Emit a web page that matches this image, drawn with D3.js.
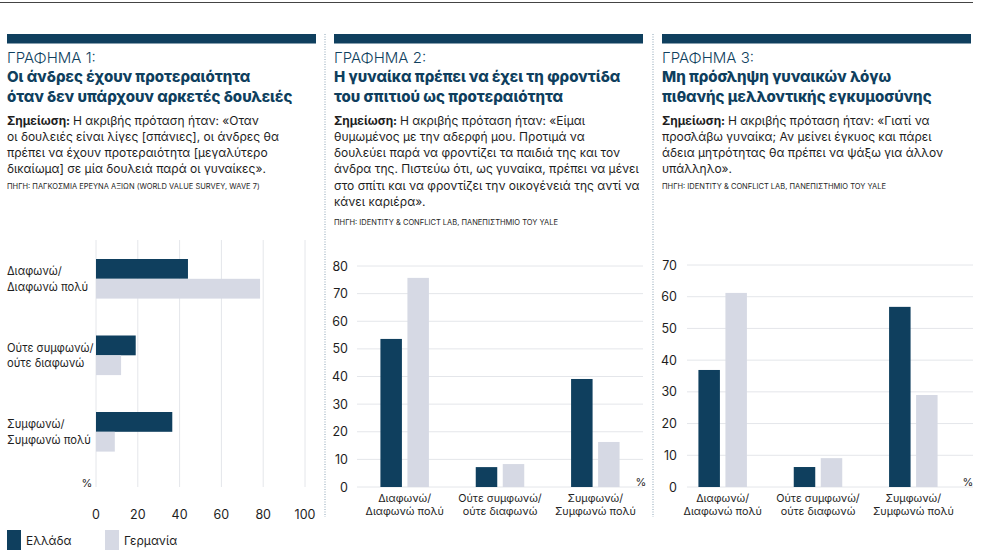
<!DOCTYPE html>
<html><head><meta charset="utf-8">
<script src="https://cdn.jsdelivr.net/npm/d3@7"></script>
<style>
body{margin:0;background:#fff;}
svg{display:block;font-family:Inter,"Noto Sans",sans-serif;}
</style></head>
<body>
<svg id="c" width="988" height="558"></svg>
<script>
const categories = ["Διαφωνώ/\nΔιαφωνώ πολύ", "Ούτε συμφωνώ/\nούτε διαφωνώ", "Συμφωνώ/\nΣυμφωνώ πολύ"];
const seriesNames = ["Ελλάδα", "Γερμανία"];
const chart1Greece = [44, 19, 36.5];
const chart1Germany = [78.5, 12, 9];
const chart2Greece = [53.6, 7.2, 39.1];
const chart2Germany = [75.7, 8.3, 16.3];
const chart3Greece = [36.9, 6.3, 56.8];
const chart3Germany = [61.2, 9.1, 29];
const ticks1 = [0, 20, 40, 60, 80, 100];
const ticks2 = [0, 10, 20, 30, 40, 50, 60, 70, 80];
const ticks3 = [0, 10, 20, 30, 40, 50, 60, 70];

const headers = [
  {label:"ΓΡΑΦΗΜΑ 1:", title:["Οι άνδρες έχουν προτεραιότητα","όταν δεν υπάρχουν αρκετές δουλειές"],
   note:["Η ακριβής πρόταση ήταν:  «Οταν","οι δουλειές είναι λίγες [σπάνιες], οι άνδρες θα","πρέπει να έχουν προτεραιότητα [μεγαλύτερο","δικαίωμα]  σε μία δουλειά παρά οι γυναίκες»."],
   source:"ΠΗΓΗ: ΠΑΓΚΟΣΜΙΑ ΕΡΕΥΝΑ ΑΞΙΩΝ (WORLD VALUE SURVEY, WAVE 7)"},
  {label:"ΓΡΑΦΗΜΑ 2:", title:["Η γυναίκα πρέπει να έχει τη φροντίδα","του σπιτιού ως προτεραιότητα"],
   note:["Η ακριβής πρόταση ήταν: «Είμαι","θυμωμένος με την αδερφή μου. Προτιμά να","δουλεύει παρά να φροντίζει τα παιδιά της και τον","άνδρα της. Πιστεύω ότι, ως γυναίκα, πρέπει να μένει","στο σπίτι και να φροντίζει την οικογένειά της αντί να","κάνει καριέρα»."],
   source:"ΠΗΓΗ: IDENTITY & CONFLICT LAB, ΠΑΝΕΠΙΣΤΗΜΙΟ ΤΟΥ YALE"},
  {label:"ΓΡΑΦΗΜΑ 3:", title:["Μη πρόσληψη γυναικών λόγω","πιθανής μελλοντικής εγκυμοσύνης"],
   note:["Η ακριβής πρόταση ήταν: «Γιατί να","προσλάβω γυναίκα; Αν μείνει έγκυος και πάρει","άδεια μητρότητας θα πρέπει να ψάξω για άλλον","υπάλληλο»."],
   source:"ΠΗΓΗ: IDENTITY & CONFLICT LAB, ΠΑΝΕΠΙΣΤΗΜΙΟ ΤΟΥ YALE"}
];

const NAVY = "#0f3f5e", LIGHT = "#d6d9e4", GRID = "#e4e6ea", TXT = "#1e1e1e";
const svg = d3.select("#c");

// top rule
svg.append("line").attr("x1",0).attr("x2",973).attr("y1",2.5).attr("y2",2.5).attr("stroke","#444").attr("stroke-width",1.2);

// separators
[325, 653].forEach(x => svg.append("line").attr("x1",x).attr("x2",x).attr("y1",34).attr("y2",517)
  .attr("stroke","#8aa3b5").attr("stroke-width",1).attr("stroke-dasharray","1,1.5"));

const panelX = [7, 334, 662];
const panelW = [309, 309, 309];
headers.forEach((h,i) => {
  const x0 = panelX[i];
  svg.append("rect").attr("x",x0).attr("y",34).attr("width",panelW[i]).attr("height",9.5).attr("fill",NAVY);
  svg.append("text").attr("x",x0).attr("y",63).attr("font-size",15).attr("fill",NAVY).attr("font-weight",300).text(h.label);
  h.title.forEach((t,j) => svg.append("text").attr("x",x0).attr("y",82+j*19.5).attr("font-size",15).attr("font-weight",800).attr("fill",NAVY).text(t));
  h.note.forEach((t,j) => {
    const tx = svg.append("text").attr("x",x0).attr("y",124.5+j*16.3).attr("font-size",12).attr("fill",TXT);
    if (j===0) { tx.append("tspan").attr("font-weight",700).text("Σημείωση: "); }
    tx.append("tspan").text(t);
  });
  svg.append("text").attr("x",x0).attr("y",128+h.note.length*16.3-4+ (i===1?3:0)).attr("font-size",7.5).attr("fill",TXT).text(h.source);
});

function multiline(sel, text, x, y, lh) {
  text.split("\n").forEach((l,k) => sel.append("tspan").attr("x",x).attr("y",y+k*lh).text(l));
}

// ---- Chart 1: horizontal bars
{
  const x = d3.scaleLinear().domain([0,100]).range([96,305]);
  const g = svg.append("g");
  g.selectAll(".gl").data(ticks1).join("line").attr("x1",d=>x(d)).attr("x2",d=>x(d)).attr("y1",240).attr("y2",487)
    .attr("stroke",GRID).attr("stroke-width",1);
  g.selectAll(".tl").data(ticks1).join("text").attr("x",d=>x(d)).attr("y",519).attr("text-anchor","middle")
    .attr("font-size",12.5).attr("fill",TXT).text(d=>d);
  g.append("text").attr("x",87).attr("y",487).attr("font-size",11).attr("fill",TXT).attr("text-anchor","middle").text("%");
  const bh = 19.8;
  const y0 = d3.scaleLinear().domain([0,2]).range([259, 412]);
  categories.forEach((c,i) => {
    const top = y0(i);
    g.append("rect").attr("x",x(0)).attr("y",top).attr("width",x(chart1Greece[i])-x(0)).attr("height",bh).attr("fill",NAVY);
    g.append("rect").attr("x",x(0)).attr("y",top+bh).attr("width",x(chart1Germany[i])-x(0)).attr("height",bh).attr("fill",LIGHT);
    const t = g.append("text").attr("font-size",11.2).attr("fill",TXT);
    multiline(t, c, 7, top+16, 15.5);
  });
  // legend
  svg.append("rect").attr("x",7).attr("y",530).attr("width",14).attr("height",20).attr("fill",NAVY);
  svg.append("text").attr("x",26).attr("y",545).attr("font-size",12).attr("fill",TXT).text(seriesNames[0]);
  svg.append("rect").attr("x",105).attr("y",530).attr("width",14).attr("height",20).attr("fill",LIGHT);
  svg.append("text").attr("x",124).attr("y",545).attr("font-size",12).attr("fill",TXT).text(seriesNames[1]);
}

// ---- Vertical charts
function vchart(opts) {
  const {gx0, gx1, bx0, bx1, y0, y1, max, ticks, gr, de, labelX, pctX} = opts;
  const y = d3.scaleLinear().domain([0,max]).range([y0,y1]);
  const x = d3.scaleBand().domain(categories).range([bx0,bx1]);
  const g = svg.append("g");
  g.selectAll(".gl").data(ticks).join("line").attr("x1",gx0).attr("x2",gx1).attr("y1",d=>y(d)).attr("y2",d=>y(d))
    .attr("stroke",GRID).attr("stroke-width",1);
  g.selectAll(".tl").data(ticks).join("text").attr("x",labelX).attr("y",d=>y(d)+4.5).attr("text-anchor","end")
    .attr("font-size",12.5).attr("fill",TXT).text(d=>d);
  g.append("text").attr("x",pctX).attr("y",486).attr("font-size",11).attr("fill",TXT).attr("text-anchor","middle").text("%");
  const bw = 21.5, gap = 5.5;
  categories.forEach((c,i) => {
    const cx = x(c) + x.bandwidth()/2;
    g.append("rect").attr("x",cx-gap/2-bw).attr("y",y(gr[i])).attr("width",bw).attr("height",y(0)-y(gr[i])).attr("fill",NAVY);
    g.append("rect").attr("x",cx+gap/2).attr("y",y(de[i])).attr("width",bw).attr("height",y(0)-y(de[i])).attr("fill",LIGHT);
    const t = g.append("text").attr("font-size",10.8).attr("fill",TXT).attr("text-anchor","middle");
    multiline(t, c, cx, 502, 13);
  });
}
vchart({gx0:357, gx1:643, bx0:357, bx1:643, y0:487, y1:266, max:80, ticks:ticks2, gr:chart2Greece, de:chart2Germany, labelX:348, pctX:641});
vchart({gx0:687, gx1:973, bx0:675, bx1:961, y0:487, y1:265, max:70, ticks:ticks3, gr:chart3Greece, de:chart3Germany, labelX:677, pctX:968});
</script>
</body></html>
